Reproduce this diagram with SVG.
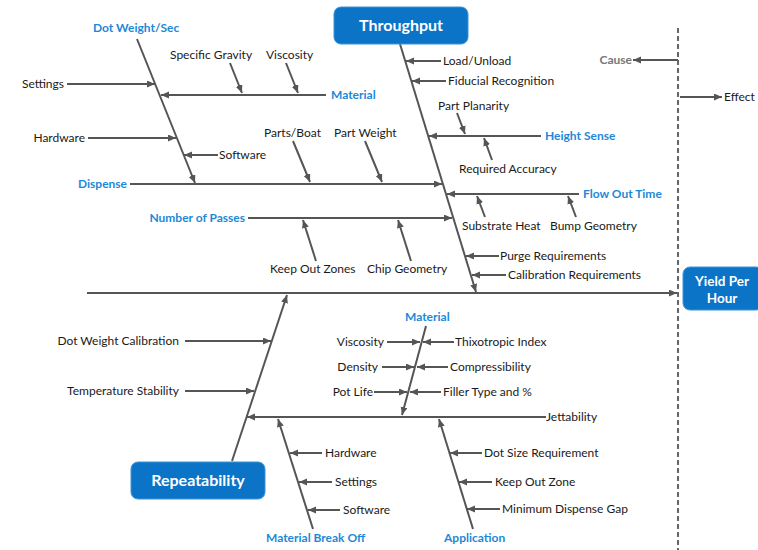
<svg xmlns="http://www.w3.org/2000/svg" width="758" height="550" viewBox="0 0 758 550">
<defs>
<marker id="ah" markerUnits="userSpaceOnUse" markerWidth="9" markerHeight="8" refX="8" refY="3.5" orient="auto">
<path d="M0,0 L8,3.5 L0,7 z" fill="#555"/>
</marker>
<style>
.c{stroke:#555;stroke-width:2;fill:none;marker-end:url(#ah)}
.p{stroke:#555;stroke-width:2;fill:none}
.t{font-family:Lato,"Liberation Sans",sans-serif;font-size:12px;fill:#1a1a1a}
.b{font-family:Lato,"Liberation Sans",sans-serif;font-size:12px;font-weight:bold;fill:#1e88d8}
.g{font-family:Lato,"Liberation Sans",sans-serif;font-size:12px;font-weight:bold;fill:#777}
.bx{fill:#0b74c7;stroke:#3d93d6;stroke-width:1}
.bt{font-family:Lato,"Liberation Sans",sans-serif;font-size:16px;font-weight:bold;fill:#fff;text-anchor:middle}
.by{font-family:Lato,"Liberation Sans",sans-serif;font-size:13.5px;font-weight:bold;fill:#fff;text-anchor:middle}
.e{text-anchor:end}
</style>
</defs>
<rect width="758" height="550" fill="#fff"/>

<g id="connectors">
<line class="p" x1="678" y1="28" x2="678" y2="550" stroke-dasharray="5 3" style="stroke:#666"/>
<line class="c" x1="87" y1="293" x2="677" y2="293"/>
<line class="c" x1="678" y1="60" x2="633" y2="60"/>
<line class="c" x1="680" y1="97" x2="722" y2="97"/>
<!-- Dot Weight/Sec -->
<line class="c" x1="137" y1="39" x2="195" y2="183"/>
<line class="c" x1="67" y1="84" x2="155" y2="84"/>
<line class="c" x1="326" y1="95" x2="161" y2="95"/>
<line class="c" x1="230" y1="63" x2="242" y2="93"/>
<line class="c" x1="286" y1="63" x2="298" y2="93"/>
<line class="c" x1="88" y1="138" x2="176" y2="138"/>
<line class="c" x1="218" y1="155" x2="184" y2="155"/>
<!-- Dispense -->
<line class="c" x1="130" y1="184" x2="442" y2="184"/>
<line class="c" x1="293" y1="141" x2="310" y2="182"/>
<line class="c" x1="365" y1="141" x2="382" y2="182"/>
<!-- Throughput -->
<line class="c" x1="400" y1="44" x2="476" y2="292"/>
<line class="c" x1="441" y1="61" x2="406" y2="61"/>
<line class="c" x1="446" y1="81" x2="412" y2="81"/>
<line class="c" x1="541" y1="136" x2="429" y2="136"/>
<line class="c" x1="457" y1="113" x2="465" y2="134"/>
<line class="c" x1="492" y1="160" x2="484" y2="138"/>
<line class="c" x1="579" y1="194" x2="447" y2="194"/>
<line class="c" x1="485" y1="217" x2="477" y2="196"/>
<line class="c" x1="576" y1="217" x2="568" y2="196"/>
<line class="c" x1="248" y1="218" x2="452" y2="218"/>
<line class="c" x1="316" y1="261" x2="303" y2="220"/>
<line class="c" x1="411" y1="261" x2="398" y2="220"/>
<line class="c" x1="499" y1="256" x2="466" y2="256"/>
<line class="c" x1="506" y1="275" x2="472" y2="275"/>
<!-- Repeatability -->
<line class="c" x1="232" y1="461" x2="287" y2="295"/>
<line class="c" x1="185" y1="341" x2="271" y2="341"/>
<line class="c" x1="185" y1="391" x2="254" y2="391"/>
<line class="c" x1="546" y1="417" x2="247" y2="417"/>
<!-- Material bottom -->
<line class="c" x1="426" y1="326" x2="402" y2="415"/>
<line class="c" x1="387" y1="342" x2="420" y2="342"/>
<line class="c" x1="454" y1="342" x2="423" y2="342"/>
<line class="c" x1="382" y1="367" x2="414" y2="367"/>
<line class="c" x1="448" y1="367" x2="417" y2="367"/>
<line class="c" x1="374" y1="392" x2="407" y2="392"/>
<line class="c" x1="441" y1="392" x2="410" y2="392"/>
<!-- Material Break Off -->
<line class="c" x1="313" y1="529" x2="278" y2="419"/>
<line class="c" x1="322" y1="453" x2="290" y2="453"/>
<line class="c" x1="332" y1="482" x2="299" y2="482"/>
<line class="c" x1="340" y1="510" x2="308" y2="510"/>
<!-- Application -->
<line class="c" x1="473" y1="529" x2="439" y2="419"/>
<line class="c" x1="482" y1="453" x2="450" y2="453"/>
<line class="c" x1="492" y1="482" x2="459" y2="482"/>
<line class="c" x1="500" y1="509" x2="467" y2="509"/>
</g>

<g id="throughput"><rect class="bx" x="334" y="7" width="134" height="37" rx="7"/><text class="bt" x="401" y="31">Throughput</text></g>
<g id="repeatability"><rect class="bx" x="131" y="462" width="134" height="37" rx="7"/><text class="bt" x="198" y="486">Repeatability</text></g>
<g id="yield"><rect class="bx" x="683" y="267" width="80" height="43" rx="7"/><text class="by" x="722" y="286">Yield Per<tspan x="722" dy="16.5">Hour</tspan></text></g>

<g id="legend">
<text class="g e" x="632" y="64">Cause</text>
<text class="t" x="724" y="101">Effect</text>
</g>

<g id="dot-weight-sec"><text class="b" x="93" y="32">Dot Weight/Sec</text></g>
<g id="dws-settings"><text class="t e" x="64" y="88">Settings</text></g>
<g id="dws-material"><text class="b" x="331" y="99">Material</text></g>
<g id="specific-gravity"><text class="t" x="170" y="59">Specific Gravity</text></g>
<g id="viscosity-top"><text class="t" x="266" y="59">Viscosity</text></g>
<g id="dws-hardware"><text class="t e" x="85" y="142">Hardware</text></g>
<g id="dws-software"><text class="t" x="219" y="159">Software</text></g>
<g id="dispense"><text class="b e" x="127" y="188">Dispense</text></g>
<g id="parts-boat"><text class="t" x="264" y="137">Parts/Boat</text></g>
<g id="part-weight"><text class="t" x="334" y="137">Part Weight</text></g>
<g id="load-unload"><text class="t" x="443" y="65">Load/Unload</text></g>
<g id="fiducial"><text class="t" x="448" y="85">Fiducial Recognition</text></g>
<g id="height-sense"><text class="b" x="545" y="140">Height Sense</text></g>
<g id="part-planarity"><text class="t" x="438" y="110">Part Planarity</text></g>
<g id="required-accuracy"><text class="t" x="459" y="173">Required Accuracy</text></g>
<g id="flow-out-time"><text class="b" x="583" y="198">Flow Out Time</text></g>
<g id="substrate-heat"><text class="t" x="462" y="230">Substrate Heat</text></g>
<g id="bump-geometry"><text class="t" x="550" y="230">Bump Geometry</text></g>
<g id="number-of-passes"><text class="b e" x="245" y="222">Number of Passes</text></g>
<g id="keep-out-zones"><text class="t" x="270" y="273">Keep Out Zones</text></g>
<g id="chip-geometry"><text class="t" x="367" y="273">Chip Geometry</text></g>
<g id="purge"><text class="t" x="500" y="260">Purge Requirements</text></g>
<g id="calibration"><text class="t" x="508" y="279">Calibration Requirements</text></g>
<g id="dot-weight-cal"><text class="t e" x="179" y="345">Dot Weight Calibration</text></g>
<g id="temp-stability"><text class="t e" x="179" y="395">Temperature Stability</text></g>
<g id="jettability"><text class="t" x="546" y="421">Jettability</text></g>
<g id="material-bottom"><text class="b" x="405" y="321">Material</text></g>
<g id="viscosity-b"><text class="t e" x="384" y="346">Viscosity</text></g>
<g id="thixotropic"><text class="t" x="455" y="346">Thixotropic Index</text></g>
<g id="density"><text class="t e" x="378" y="371">Density</text></g>
<g id="compressibility"><text class="t" x="450" y="371">Compressibility</text></g>
<g id="pot-life"><text class="t e" x="373" y="396">Pot Life</text></g>
<g id="filler"><text class="t" x="443" y="396">Filler Type and %</text></g>
<g id="material-break-off"><text class="b" x="266" y="542">Material Break Off</text></g>
<g id="mbo-hardware"><text class="t" x="325" y="457">Hardware</text></g>
<g id="mbo-settings"><text class="t" x="335" y="486">Settings</text></g>
<g id="mbo-software"><text class="t" x="343" y="514">Software</text></g>
<g id="application"><text class="b" x="444" y="542">Application</text></g>
<g id="dot-size"><text class="t" x="484" y="457">Dot Size Requirement</text></g>
<g id="keep-out-zone"><text class="t" x="495" y="486">Keep Out Zone</text></g>
<g id="min-gap"><text class="t" x="502" y="513">Minimum Dispense Gap</text></g>
</svg>
